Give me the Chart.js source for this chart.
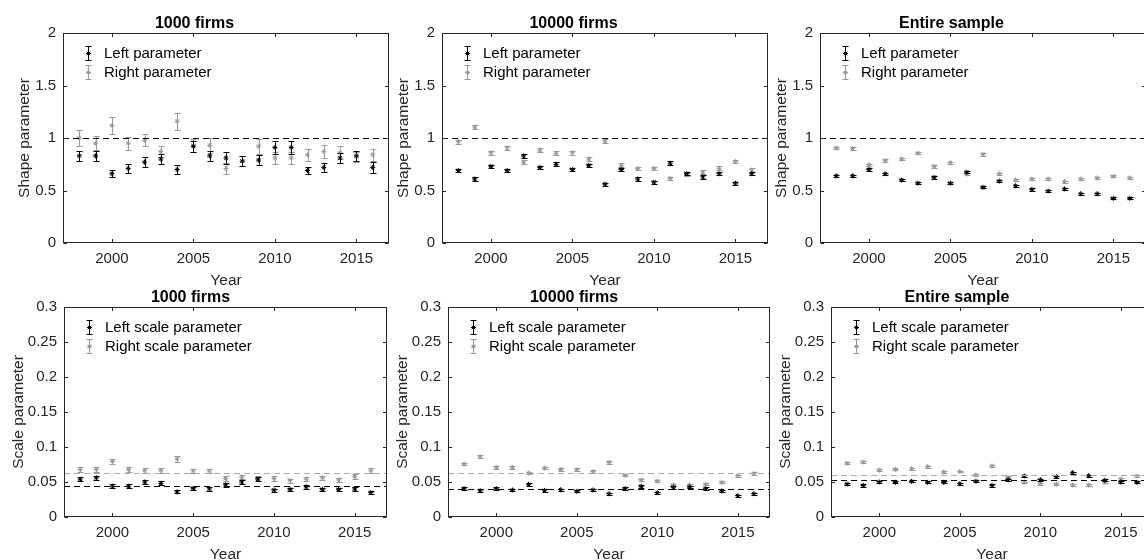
<!DOCTYPE html>
<html>
<head>
<meta charset="utf-8">
<script src="https://cdn.jsdelivr.net/npm/chart.js@4.4.1/dist/chart.umd.min.js"></script>
<style>
  html, body { margin: 0; padding: 0; background: #fff; width: 1144px; height: 560px; overflow: hidden; }
  #wrap { position: relative; width: 1144px; height: 560px; }
  #wrap canvas { position: absolute; }
</style>
</head>
<body>
<div id="wrap"></div>
<script>
/* ─── Data ────────────────────────────────────────────────────── */

const years = [1998, 1999, 2000, 2001, 2002, 2003, 2004, 2005, 2006, 2007,
               2008, 2009, 2010, 2011, 2012, 2013, 2014, 2015, 2016];
const xTicks = [2000, 2005, 2010, 2015];
const shapeTicks = [0, 0.5, 1, 1.5, 2];
const scaleTicks = [0, 0.05, 0.1, 0.15, 0.2, 0.25, 0.3];

// Shape parameters
const leftShape1000  = [0.83, 0.83, 0.66, 0.71, 0.77, 0.80, 0.70, 0.92, 0.83, 0.81, 0.78, 0.79, 0.91, 0.91, 0.69, 0.72, 0.81, 0.83, 0.72];
const rightShape1000 = [1.00, 0.95, 1.12, 0.95, 0.98, 0.87, 1.16, 0.93, 0.93, 0.71, 0.78, 0.92, 0.81, 0.81, 0.84, 0.87, 0.86, 0.82, 0.84];
const leftShapeErr1000  = [0.05, 0.05, 0.035, 0.045, 0.05, 0.045, 0.045, 0.05, 0.05, 0.055, 0.045, 0.05, 0.06, 0.06, 0.035, 0.045, 0.05, 0.045, 0.05];
const rightShapeErr1000 = [0.075, 0.065, 0.08, 0.06, 0.06, 0.055, 0.08, 0.06, 0.07, 0.05, 0.045, 0.07, 0.06, 0.06, 0.06, 0.06, 0.06, 0.05, 0.06];

const leftShape10000  = [0.69, 0.61, 0.73, 0.69, 0.83, 0.72, 0.75, 0.70, 0.74, 0.56, 0.70, 0.61, 0.58, 0.76, 0.66, 0.63, 0.66, 0.57, 0.66];
const rightShape10000 = [0.965, 1.105, 0.86, 0.905, 0.77, 0.885, 0.855, 0.86, 0.80, 0.97, 0.74, 0.71, 0.71, 0.615, 0.655, 0.675, 0.71, 0.775, 0.695];
const leftShapeErr10000  = [0.016, 0.015, 0.017, 0.015, 0.02, 0.016, 0.017, 0.015, 0.017, 0.013, 0.018, 0.015, 0.015, 0.017, 0.015, 0.016, 0.017, 0.014, 0.016];
const rightShapeErr10000 = [0.02, 0.022, 0.018, 0.019, 0.017, 0.019, 0.018, 0.018, 0.02, 0.02, 0.019, 0.016, 0.016, 0.013, 0.015, 0.017, 0.019, 0.017, 0.017];

const leftShapeAll  = [0.64, 0.64, 0.70, 0.66, 0.60, 0.57, 0.625, 0.57, 0.675, 0.53, 0.59, 0.545, 0.51, 0.495, 0.515, 0.47, 0.47, 0.425, 0.425];
const rightShapeAll = [0.905, 0.90, 0.745, 0.785, 0.80, 0.855, 0.73, 0.765, 0.655, 0.845, 0.66, 0.60, 0.61, 0.61, 0.585, 0.61, 0.62, 0.635, 0.62];
const leftShapeErrAll  = [0.011, 0.011, 0.012, 0.011, 0.01, 0.01, 0.011, 0.01, 0.012, 0.01, 0.011, 0.01, 0.01, 0.009, 0.01, 0.009, 0.009, 0.009, 0.009];
const rightShapeErrAll = [0.012, 0.012, 0.012, 0.011, 0.011, 0.012, 0.011, 0.011, 0.012, 0.012, 0.011, 0.01, 0.01, 0.01, 0.01, 0.01, 0.01, 0.01, 0.01];

// Scale parameters
const leftScale1000  = [0.054, 0.056, 0.044, 0.044, 0.050, 0.048, 0.036, 0.041, 0.040, 0.046, 0.050, 0.054, 0.0385, 0.0395, 0.043, 0.0395, 0.0395, 0.040, 0.035];
const rightScale1000 = [0.068, 0.068, 0.0795, 0.068, 0.0667, 0.0667, 0.083, 0.0657, 0.0657, 0.055, 0.057, 0.055, 0.055, 0.052, 0.054, 0.056, 0.053, 0.058, 0.0667];
const leftScaleErr1000  = [0.003, 0.003, 0.0025, 0.0025, 0.003, 0.0028, 0.0022, 0.0025, 0.0025, 0.0028, 0.003, 0.003, 0.0022, 0.0024, 0.0025, 0.0024, 0.0024, 0.0024, 0.0022];
const rightScaleErr1000 = [0.0035, 0.0035, 0.0038, 0.0033, 0.0033, 0.0033, 0.0038, 0.0032, 0.0032, 0.003, 0.003, 0.003, 0.003, 0.0028, 0.003, 0.003, 0.0028, 0.003, 0.0033];

const leftScale10000  = [0.0405, 0.0376, 0.0405, 0.0386, 0.0467, 0.038, 0.039, 0.0367, 0.0386, 0.0333, 0.0405, 0.0438, 0.0348, 0.0424, 0.0429, 0.0405, 0.0371, 0.0305, 0.0333];
const rightScale10000 = [0.0757, 0.086, 0.071, 0.071, 0.0629, 0.070, 0.068, 0.0676, 0.0648, 0.078, 0.0595, 0.0529, 0.0514, 0.0457, 0.0457, 0.0467, 0.0495, 0.059, 0.062];
const leftScaleErr10000  = [0.0018, 0.0017, 0.0018, 0.0017, 0.002, 0.0017, 0.0017, 0.0016, 0.0017, 0.0016, 0.0018, 0.0019, 0.0016, 0.0018, 0.0018, 0.0018, 0.0017, 0.0015, 0.0016];
const rightScaleErr10000 = [0.0018, 0.002, 0.0018, 0.0018, 0.0016, 0.0018, 0.0017, 0.0017, 0.0017, 0.0019, 0.0016, 0.0015, 0.0015, 0.0014, 0.0014, 0.0014, 0.0015, 0.0016, 0.0016];

const leftScaleAll  = [0.047, 0.045, 0.050, 0.0495, 0.051, 0.0495, 0.0495, 0.0476, 0.051, 0.045, 0.0533, 0.0586, 0.0533, 0.0576, 0.0633, 0.059, 0.0524, 0.050, 0.0495];
const rightScaleAll = [0.0767, 0.0786, 0.067, 0.068, 0.069, 0.072, 0.0643, 0.065, 0.060, 0.0729, 0.0567, 0.0495, 0.0476, 0.0467, 0.0457, 0.0457, 0.050, 0.0543, 0.0586];
const leftScaleErrAll  = [0.0015, 0.0015, 0.0015, 0.0015, 0.0015, 0.0015, 0.0015, 0.0015, 0.0015, 0.0015, 0.0016, 0.0016, 0.0016, 0.0016, 0.0017, 0.0016, 0.0016, 0.0015, 0.0015];
const rightScaleErrAll = [0.0014, 0.0014, 0.0013, 0.0013, 0.0013, 0.0013, 0.0013, 0.0013, 0.0012, 0.0014, 0.0012, 0.0012, 0.0012, 0.0012, 0.0012, 0.0012, 0.0012, 0.0012, 0.0012];

// Dashed reference levels [left, right]
const shapeRef = [1];
const scaleRef1000 = [0.045, 0.063];
const scaleRef10000 = [0.0395, 0.0624];
const scaleRefAll = [0.0524, 0.0605];

/* ─── Styling ─────────────────────────────────────────────────── */

const FONT = '"Liberation Sans", Arial, Helvetica, sans-serif';
const AXIS_COLOR = '#262626';
const LEFT_COLOR = '#000000';
const RIGHT_COLOR = '#999999';
const RIGHT_REF_COLOR = '#ababab';

const shapeNames = ['Left parameter', 'Right parameter'];
const scaleNames = ['Left scale parameter', 'Right scale parameter'];

// plot box: [left, top, width, height], yBox = room for y labels
const panels = [
    { title: '1000 firms',    yLabel: 'Shape parameter', names: shapeNames, yMax: 2, yTicks: shapeTicks,
      left: leftShape1000, right: rightShape1000, leftErr: leftShapeErr1000, rightErr: rightShapeErr1000,
      refs: shapeRef, box: [63, 33, 326, 210], yBox: 63 },
    { title: '10000 firms',   yLabel: 'Shape parameter', names: shapeNames, yMax: 2, yTicks: shapeTicks,
      left: leftShape10000, right: rightShape10000, leftErr: leftShapeErr10000, rightErr: rightShapeErr10000,
      refs: shapeRef, box: [442, 33, 326, 210], yBox: 63 },
    { title: 'Entire sample', yLabel: 'Shape parameter', names: shapeNames, yMax: 2, yTicks: shapeTicks,
      left: leftShapeAll, right: rightShapeAll, leftErr: leftShapeErrAll, rightErr: rightShapeErrAll,
      refs: shapeRef, box: [820, 33, 326, 210], yBox: 63 },
    { title: '1000 firms',    yLabel: 'Scale parameter', names: scaleNames, yMax: 0.3, yTicks: scaleTicks,
      left: leftScale1000, right: rightScale1000, leftErr: leftScaleErr1000, rightErr: rightScaleErr1000,
      refs: scaleRef1000, box: [64, 307, 323, 210], yBox: 70 },
    { title: '10000 firms',   yLabel: 'Scale parameter', names: scaleNames, yMax: 0.3, yTicks: scaleTicks,
      left: leftScale10000, right: rightScale10000, leftErr: leftScaleErr10000, rightErr: rightScaleErr10000,
      refs: scaleRef10000, box: [447.5, 307, 322.5, 210], yBox: 70 },
    { title: 'Entire sample', yLabel: 'Scale parameter', names: scaleNames, yMax: 0.3, yTicks: scaleTicks,
      left: leftScaleAll, right: rightScaleAll, leftErr: leftScaleErrAll, rightErr: rightScaleErrAll,
      refs: scaleRefAll, box: [830.5, 307, 322.5, 210], yBox: 70 },
];

const TITLE_BOX = 33;
const XAXIS_BOX = 47;
const RIGHT_PAD = 10;

/* ─── Plugins ─────────────────────────────────────────────────── */

const errorBars = {
    id: 'errorBars',
    afterDatasetDraw(chart, args) {
        const ds = chart.data.datasets[args.index];
        if (!ds.errors) return;
        const { ctx } = chart;
        const xs = chart.scales.x, ys = chart.scales.y;
        ctx.save();
        ctx.strokeStyle = ds.borderColor;
        ctx.lineWidth = 1;
        ds.data.forEach((p, i) => {
            const e = ds.errors[i];
            const x = Math.round(xs.getPixelForValue(p.x)) + 0.5;
            const y0 = Math.round(ys.getPixelForValue(p.y - e)) + 0.5;
            const y1 = Math.round(ys.getPixelForValue(p.y + e)) + 0.5;
            ctx.beginPath();
            ctx.moveTo(x, y0); ctx.lineTo(x, y1);
            ctx.moveTo(x - 3, y0); ctx.lineTo(x + 3, y0);
            ctx.moveTo(x - 3, y1); ctx.lineTo(x + 3, y1);
            ctx.stroke();
        });
        ctx.restore();
    }
};

// dashed reference levels, snapped to whole pixels so they stay crisp
const refLines = {
    id: 'refLines',
    afterDatasetsDraw(chart) {
        const { ctx, chartArea: a } = chart;
        const { levels, colors } = chart.options.plugins.refLines;
        ctx.save();
        ctx.lineWidth = 1;
        ctx.setLineDash([6, 4]);
        levels.forEach((v, i) => {
            const y = Math.round(chart.scales.y.getPixelForValue(v)) + 0.5;
            ctx.strokeStyle = colors[i];
            ctx.beginPath();
            ctx.moveTo(a.left, y);
            ctx.lineTo(a.right, y);
            ctx.stroke();
        });
        ctx.restore();
    }
};

const matlabBox = {
    id: 'matlabBox',
    afterDraw(chart) {
        const { ctx, chartArea: a } = chart;
        const L = Math.round(a.left) + 0.5, R = Math.round(a.right) - 0.5;
        const T = Math.round(a.top) + 0.5, B = Math.round(a.bottom) - 0.5;
        ctx.save();
        ctx.strokeStyle = AXIS_COLOR;
        ctx.lineWidth = 1;
        ctx.strokeRect(L, T, R - L, B - T);
        const tl = 3.5;
        ctx.beginPath();
        chart.scales.x.ticks.forEach(t => {
            const x = Math.round(chart.scales.x.getPixelForValue(t.value)) + 0.5;
            ctx.moveTo(x, B); ctx.lineTo(x, B - tl);
            ctx.moveTo(x, T); ctx.lineTo(x, T + tl);
        });
        chart.scales.y.ticks.forEach(t => {
            const y = Math.round(chart.scales.y.getPixelForValue(t.value)) + 0.5;
            ctx.moveTo(L, y); ctx.lineTo(L + tl, y);
            ctx.moveTo(R, y); ctx.lineTo(R - tl, y);
        });
        ctx.stroke();

        // legend inside the plot, upper left
        const names = chart.options.plugins.matlabBox.names;
        names.forEach((name, i) => {
            const ds = chart.data.datasets[i];
            const cx = Math.round(a.left + 25) + 0.5;
            const cy = Math.round(a.top + 20 + i * 18.7) + 0.5;
            ctx.strokeStyle = ds.borderColor;
            ctx.fillStyle = ds.borderColor;
            ctx.beginPath();
            ctx.moveTo(cx, cy - 7); ctx.lineTo(cx, cy + 7);
            ctx.moveTo(cx - 3, cy - 7); ctx.lineTo(cx + 3, cy - 7);
            ctx.moveTo(cx - 3, cy + 7); ctx.lineTo(cx + 3, cy + 7);
            ctx.stroke();
            Chart.helpers.drawPoint(ctx, { pointStyle: 'star', radius: 2.5, borderWidth: 1 }, cx, cy);
            ctx.fillStyle = '#000';
            ctx.font = '15px ' + FONT;
            ctx.textBaseline = 'middle';
            ctx.textAlign = 'left';
            ctx.fillText(name, a.left + 41, cy);
        });
        ctx.restore();
    }
};

/* ─── Build the six panels ────────────────────────────────────── */

const toPoints = vals => years.map((yr, i) => ({ x: yr, y: vals[i] }));

const wrap = document.getElementById('wrap');

panels.forEach(p => {
    const [bx, by, bw, bh] = p.box;
    const canvas = document.createElement('canvas');
    const w = p.yBox + bw + RIGHT_PAD;
    const h = TITLE_BOX + bh + XAXIS_BOX;
    canvas.width = w;
    canvas.height = h;
    canvas.style.left = (bx - p.yBox) + 'px';
    canvas.style.top = (by - TITLE_BOX) + 'px';
    canvas.style.width = w + 'px';
    canvas.style.height = h + 'px';
    wrap.appendChild(canvas);

    const refColors = p.refs.length === 1 ? [LEFT_COLOR] : [LEFT_COLOR, RIGHT_REF_COLOR];

    new Chart(canvas, {
        type: 'scatter',
        data: {
            datasets: [
                {
                    label: p.names[0],
                    data: toPoints(p.left),
                    errors: p.leftErr,
                    borderColor: LEFT_COLOR,
                    backgroundColor: LEFT_COLOR,
                    pointStyle: 'star',
                    pointRadius: 2.5,
                    borderWidth: 1,
                },
                {
                    label: p.names[1],
                    data: toPoints(p.right),
                    errors: p.rightErr,
                    borderColor: RIGHT_COLOR,
                    backgroundColor: RIGHT_COLOR,
                    pointStyle: 'star',
                    pointRadius: 2.5,
                    borderWidth: 1,
                },
            ]
        },
        options: {
            responsive: false,
            animation: false,
            devicePixelRatio: 1,
            layout: { padding: { left: 0, right: RIGHT_PAD, top: 0, bottom: 0 } },
            plugins: {
                legend: { display: false },
                tooltip: { enabled: false },
                title: {
                    display: true,
                    text: p.title,
                    color: '#000',
                    font: { family: FONT, size: 16, weight: 'bold' },
                    padding: { top: 13.8, bottom: 0 },
                },
                refLines: { levels: p.refs, colors: refColors },
                matlabBox: { names: p.names },
            },
            scales: {
                x: {
                    type: 'linear',
                    min: 1997,
                    max: 2017,
                    afterBuildTicks: s => { s.ticks = xTicks.map(v => ({ value: v })); },
                    afterFit: s => { s.height = XAXIS_BOX; },
                    grid: { display: false, drawTicks: false },
                    border: { display: false },
                    ticks: {
                        color: AXIS_COLOR,
                        font: { family: FONT, size: 15 },
                        padding: 7,
                        maxRotation: 0,
                        autoSkip: false,
                        callback: v => String(v),
                    },
                    title: {
                        display: true,
                        text: 'Year',
                        color: AXIS_COLOR,
                        font: { family: FONT, size: 15.5 },
                        padding: { top: 0, bottom: 0 },
                    },
                },
                y: {
                    type: 'linear',
                    min: 0,
                    max: p.yMax,
                    afterBuildTicks: s => { s.ticks = p.yTicks.map(v => ({ value: v })); },
                    afterFit: s => { s.width = p.yBox; },
                    grid: { display: false, drawTicks: false },
                    border: { display: false },
                    ticks: {
                        color: AXIS_COLOR,
                        font: { family: FONT, size: 15 },
                        padding: 7,
                        autoSkip: false,
                        callback: v => String(v),
                    },
                    title: {
                        display: true,
                        text: p.yLabel,
                        color: AXIS_COLOR,
                        font: { family: FONT, size: 15.5 },
                        padding: { top: 15, bottom: 0 },
                    },
                },
            },
        },
        plugins: [errorBars, refLines, matlabBox],
    });
});
</script>
</body>
</html>
